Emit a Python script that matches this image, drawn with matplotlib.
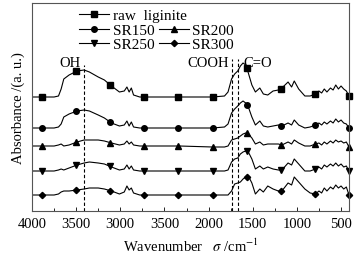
import numpy as np
import matplotlib
matplotlib.use('Agg')
import matplotlib.pyplot as plt
from matplotlib.lines import Line2D

plt.rcParams['font.family'] = ['Liberation Serif', 'DejaVu Serif']
plt.rcParams['mathtext.fontset'] = 'stix'

# wavenumber grid (cm-1) and stacked absorbance (0.01 a.u.)
wn = np.array([4000, 3886, 3750, 3700, 3670, 3640, 3580, 3490, 3410, 3350,
               3250, 3180, 3100, 3010, 2955, 2925, 2900, 2875, 2850, 2780,
               2720, 2330, 1955, 1820, 1780, 1740, 1705, 1670, 1640, 1610,
               1580, 1550, 1510, 1470, 1420, 1380, 1330, 1270, 1210, 1170,
               1100, 1060, 1030, 980, 910, 850, 790, 750, 720, 690,
               660, 620, 590, 560, 530, 500, 470, 440, 410])

raw = np.array([114, 114, 114, 115, 122, 132, 136, 140, 141, 139,
                134, 131, 125, 119, 120, 124, 119, 123, 116, 114,
                114, 114, 114, 115, 119, 132, 137, 140, 145, 148,
                146, 138, 126, 119, 123, 117, 116, 120, 121, 123,
                129, 124, 130, 122, 115, 115, 117, 120, 118, 122,
                119, 123, 121, 126, 122, 125, 122, 120, 115]) / 100
sr150 = np.array([83, 83, 83, 84, 87, 94, 97, 100, 101, 100,
                  96, 93, 88, 85, 86, 90, 85, 89, 84, 83,
                  83, 83, 83, 84, 87, 98, 102, 105, 108, 110,
                  108, 104, 94, 86, 90, 85, 84, 85, 86, 85,
                  88, 86, 91, 86, 83, 84, 86, 88, 86, 89,
                  87, 90, 88, 92, 89, 91, 88, 87, 83]) / 100
sr200 = np.array([65, 65, 65, 66, 67, 65, 66, 69, 71, 71,
                  71, 70, 68, 66, 67, 70, 67, 69, 66, 65,
                  65, 65, 64, 64, 65, 71, 72, 73, 75, 77,
                  78, 77, 73, 67, 69, 66, 67, 67, 67, 66,
                  69, 67, 71, 68, 65, 65, 67, 68, 66, 69,
                  67, 70, 68, 71, 69, 70, 68, 69, 64]) / 100
sr250 = np.array([40, 40, 40, 41, 42, 41, 43, 46, 48, 49,
                  48, 47, 44, 41, 42, 46, 42, 45, 41, 40,
                  40, 40, 40, 40, 41, 49, 52, 53, 57, 59,
                  60, 59, 52, 42, 45, 42, 44, 42, 41, 41,
                  48, 46, 52, 47, 40, 40, 42, 44, 42, 46,
                  44, 47, 45, 48, 45, 47, 44, 45, 40]) / 100
sr300 = np.array([16, 16, 16, 17, 19, 20, 20, 21, 22, 23,
                  23, 22, 20, 17, 19, 25, 21, 23, 18, 16,
                  16, 16, 16, 16, 16, 20, 27, 28, 29, 32,
                  34, 35, 28, 17, 22, 19, 25, 22, 20, 20,
                  28, 26, 34, 29, 22, 18, 17, 20, 18, 23,
                  20, 24, 22, 26, 23, 25, 22, 24, 16]) / 100

labels = ['raw  liginite', 'SR150', 'SR200', 'SR250', 'SR300']
markers = ['s', 'o', '^', 'v', 'D']
mark_wn = np.array([3886, 3500, 3114, 2727, 2341, 1955, 1568, 1182, 795, 409])

xticks = [4000, 3500, 3000, 2500, 2000, 1500, 1000, 500]
xticklabels = ['4000', '3500', '3000', '3500', '2000', '1500', '1000', '500']

fig = plt.figure(figsize=(3.63, 2.55), dpi=100)
ax = fig.add_axes([32/363, 1-212/255, 317/363, 208/255])

handles = []
for y, lab, m in zip([raw, sr150, sr200, sr250, sr300], labels, markers):
    ax.plot(wn, y, color='k', lw=0.8)
    my = np.interp(mark_wn, wn[::-1], y[::-1])
    ms = 3.2 if m == 'D' else 4
    ax.plot(mark_wn, my, ls='none', marker=m, ms=ms, color='k', clip_on=False)
    handles.append(Line2D([], [], color='k', lw=0.8, marker=m, ms=ms))

# band positions
ax.plot([3410, 3410], [0, 1.46], color='k', lw=0.8, ls=(0, (3, 2)))
ax.plot([1740, 1740], [0, 1.52], color='k', lw=0.8, ls=(0, (3, 2)))
ax.plot([1670, 1670], [0, 1.52], color='k', lw=0.8, ls=(0, (3, 2)))
ax.text(3570, 1.49, 'OH', fontsize=10.5, ha='center', va='center')
ax.text(1770, 1.49, 'COOH', fontsize=10.5, ha='right', va='center')
ax.text(1610, 1.49, 'C=O', fontsize=10.5, ha='left', va='center')

ax.set_xlim(4000, 410)
ax.set_ylim(0, 2.08)
ax.set_yticks([])
ax.set_xticks(xticks)
ax.set_xticklabels(xticklabels, fontsize=10.5)
ax.set_xticks(np.arange(3750, 400, -500), minor=True)
ax.tick_params(axis='x', which='major', direction='in', length=3, width=0.6, pad=4)
ax.tick_params(axis='x', which='minor', direction='in', length=2, width=0.6)
for s in ax.spines.values():
    s.set_linewidth(0.8)
    s.set_color('#555555')

ax.set_xlabel('Wavenumber   $\\sigma$ /cm$^{-1}$', fontsize=10.5, labelpad=5)
ax.set_ylabel('Absorbance /(a. u.)', fontsize=10.5, labelpad=5)

leg1 = ax.legend([handles[0]], [labels[0]], loc='upper left',
                 bbox_to_anchor=(0.148, 0.975), frameon=False, fontsize=11,
                 handlelength=1.95, handletextpad=0.25, borderpad=0.0,
                 borderaxespad=0.0)
ax.add_artist(leg1)
ax.legend([handles[1], handles[3], handles[2], handles[4]],
          [labels[1], labels[3], labels[2], labels[4]], ncol=2,
          loc='upper left', bbox_to_anchor=(0.148, 0.9), frameon=False,
          fontsize=11, handlelength=1.95, handletextpad=0.25,
          columnspacing=0.3, borderpad=0.0, borderaxespad=0.0,
          labelspacing=0.0)

fig.savefig('out.png', dpi=100)
